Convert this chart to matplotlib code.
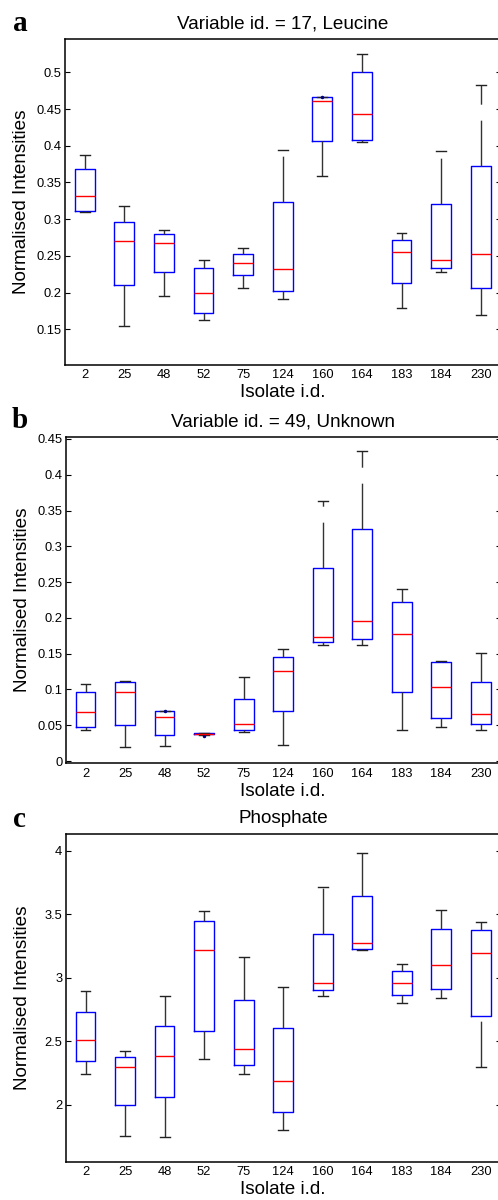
import matplotlib
matplotlib.use("Agg")
import matplotlib.pyplot as plt
from matplotlib.ticker import MultipleLocator, FuncFormatter

plt.rcParams['font.family'] = ['Liberation Sans', 'DejaVu Sans']
plt.rcParams['lines.scale_dashes'] = False

# isolates on the x axis
isolates = ['2', '25', '48', '52', '75', '124', '160', '164', '183', '184', '230']

# panel a: Variable id. = 17, Leucine  (upper whisker, q3, median, q1, lower whisker)
leu_hi = [0.388, 0.318, 0.285, 0.244, 0.261, 0.394, 0.467, 0.525, 0.281, 0.393, 0.483]
leu_q3 = [0.368, 0.296, 0.280, 0.233, 0.252, 0.323, 0.467, 0.500, 0.271, 0.320, 0.373]
leu_med = [0.331, 0.270, 0.267, 0.199, 0.241, 0.232, 0.461, 0.443, 0.255, 0.244, 0.252]
leu_q1 = [0.311, 0.210, 0.228, 0.172, 0.224, 0.202, 0.406, 0.408, 0.213, 0.233, 0.206]
leu_lo = [0.310, 0.155, 0.195, 0.163, 0.206, 0.191, 0.359, 0.405, 0.179, 0.228, 0.169]
leu_out = {'160': [0.466]}

# panel b: Variable id. = 49, Unknown
unk_hi = [0.107, 0.112, 0.0705, 0.0389, 0.118, 0.156, 0.363, 0.433, 0.240, 0.140, 0.151]
unk_q3 = [0.097, 0.110, 0.0705, 0.0385, 0.087, 0.145, 0.270, 0.324, 0.222, 0.138, 0.111]
unk_med = [0.068, 0.096, 0.061, 0.038, 0.052, 0.126, 0.173, 0.196, 0.177, 0.104, 0.066]
unk_q1 = [0.047, 0.051, 0.037, 0.0371, 0.044, 0.070, 0.166, 0.170, 0.097, 0.060, 0.052]
unk_lo = [0.043, 0.019, 0.021, 0.0362, 0.041, 0.022, 0.162, 0.162, 0.044, 0.048, 0.044]
unk_out = {'48': [0.0696], '52': [0.0348]}

# panel c: Phosphate
pho_hi = [2.897, 2.421, 2.853, 3.528, 3.164, 2.925, 3.718, 3.982, 3.111, 3.533, 3.438]
pho_q3 = [2.729, 2.379, 2.618, 3.446, 2.826, 2.603, 3.343, 3.644, 3.055, 3.383, 3.375]
pho_med = [2.508, 2.295, 2.382, 3.216, 2.437, 2.184, 2.955, 3.275, 2.955, 3.100, 3.198]
pho_q1 = [2.345, 2.000, 2.058, 2.579, 2.316, 1.945, 2.900, 3.222, 2.861, 2.908, 2.700]
pho_lo = [2.239, 1.755, 1.747, 2.363, 2.239, 1.803, 2.853, 3.216, 2.803, 2.842, 2.295]
pho_out = {}

W, H = 498, 1200


def px_axes(left, right, top, bottom):
    return [left / W, 1 - bottom / H, (right - left) / W, (bottom - top) / H]


def draw_panel(ax, hi, q3, med, q1, lo, out, title, ylim, step):
    stats = []
    for i, name in enumerate(isolates):
        stats.append(dict(med=med[i], q1=q1[i], q3=q3[i], whislo=lo[i], whishi=hi[i],
                          fliers=out.get(name, [])))
    parts = ax.bxp(stats, widths=0.5, capwidths=0.25, showfliers=True,
                   boxprops=dict(color='#0000ff', lw=1.0),
                   medianprops=dict(color='#ff0000', lw=1.0),
                   whiskerprops=dict(color='#333333', lw=1.0, dashes=(33, 11.5)),
                   capprops=dict(color='#222222', lw=1.0),
                   flierprops=dict(marker='.', markersize=3, markerfacecolor='#000080',
                                   markeredgecolor='#000080', linestyle='none'))
    # dashes run from the lower end of each whisker upward
    for w in parts['whiskers'][0::2]:
        x, y = w.get_data()
        w.set_data(x[::-1], y[::-1])

    ax.set_xlim(0.5, 11.5)
    ax.set_ylim(*ylim)
    ax.set_xticks(range(1, len(isolates) + 1))
    ax.set_xticklabels(isolates)
    ax.yaxis.set_major_locator(MultipleLocator(step))
    ax.yaxis.set_major_formatter(FuncFormatter(lambda v, p: '%g' % round(v, 6)))
    ax.tick_params(axis='y', direction='in', length=3.5, width=0.8, right=True,
                   labelsize=9.3, pad=2.5)
    ax.tick_params(axis='x', length=0, labelsize=9.3, pad=3.2)
    for s in ax.spines.values():
        s.set_linewidth(1.1)
    ax.set_title(title, fontsize=13.6, pad=7.7)
    ax.set_xlabel('Isolate i.d.', fontsize=13.6, labelpad=2)
    ax.set_ylabel('Normalised Intensities', fontsize=13.6)
    ax.yaxis.set_label_coords(-0.08, 0.5)


fig = plt.figure(figsize=(W / 100, H / 100), dpi=100)

ax_a = fig.add_axes(px_axes(65, 500.5, 39, 365))
draw_panel(ax_a, leu_hi, leu_q3, leu_med, leu_q1, leu_lo, leu_out,
           'Variable id. = 17, Leucine', (0.1014, 0.5454), 0.05)

ax_b = fig.add_axes(px_axes(65.8, 500.5, 436.7, 763.3))
draw_panel(ax_b, unk_hi, unk_q3, unk_med, unk_q1, unk_lo, unk_out,
           'Variable id. = 49, Unknown', (-0.0032, 0.4532), 0.05)

ax_c = fig.add_axes(px_axes(65.8, 500.5, 834, 1161.7))
draw_panel(ax_c, pho_hi, pho_q3, pho_med, pho_q1, pho_lo, pho_out,
           'Phosphate', (1.551, 4.1315), 0.5)

for letter, (x, y) in zip(['a', 'b', 'c'], [(20.3, 31), (20, 428.3), (19, 826.7)]):
    fig.text(x / W, 1 - y / H, letter, ha='center', va='baseline', fontsize=21,
             fontweight='bold', family=['Liberation Serif', 'DejaVu Serif'])

fig.savefig('out.png', dpi=100)
